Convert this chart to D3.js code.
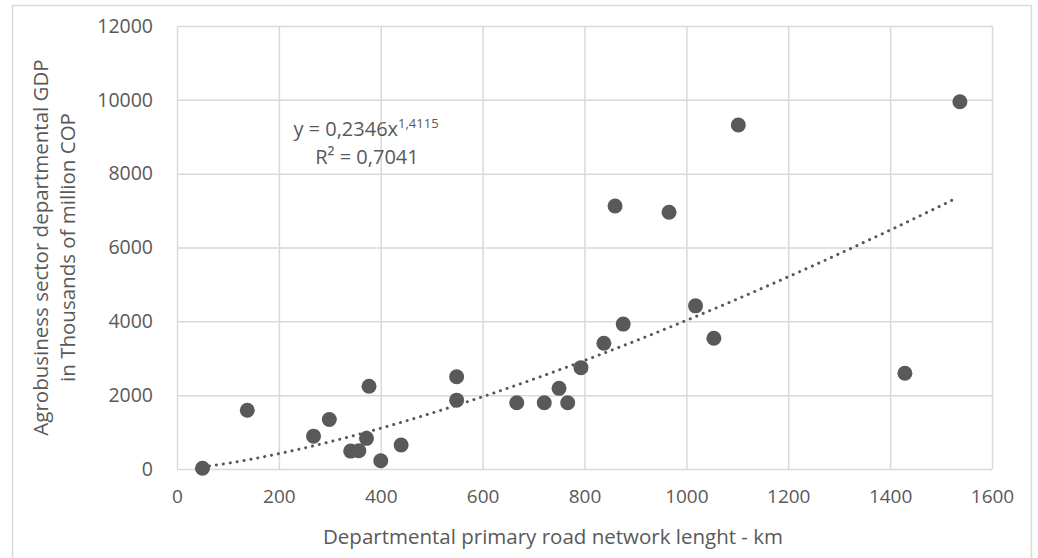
<!DOCTYPE html>
<html>
<head>
<meta charset="utf-8">
<script src="https://cdn.jsdelivr.net/npm/d3@7"></script>
<style>
  body { margin: 0; background: #fff; }
  text { font-family: "Open Sans", sans-serif; fill: #595959; }
</style>
</head>
<body>
<svg id="chart" width="1038" height="558"></svg>
<script>
// road network length (km) per department
const roadKm = [50, 138, 268, 299, 341, 357, 372, 377, 400, 440,
    549, 549, 667, 721, 750, 767, 793, 838, 860, 876,
    966, 1018, 1054, 1102, 1429, 1537]
// agrobusiness GDP (thousands of million COP)
const gdp = [20, 1590, 890, 1340, 485, 495, 830, 2240, 225, 650,
    2500, 1865, 1795, 1795, 2185, 1795, 2745, 3405, 7125, 3925,
    6955, 4420, 3540, 9320, 2595, 9950]

const xTicks = [0, 200, 400, 600, 800, 1000, 1200, 1400, 1600]
const yTicks = [0, 2000, 4000, 6000, 8000, 10000, 12000]

// power trend line  y = a * x^b
const fitA = 0.2346, fitB = 1.4115
const fitR2 = '0,7041'

const width = 1038,
    height = 558,
    plot = { left: 177, right: 992, top: 26, bottom: 469 }

const svg = d3.select('#chart')

svg.append('rect')
    .attr('width', width).attr('height', height)
    .attr('fill', '#fff')

// chart area border
svg.append('rect')
    .attr('x', 12.5).attr('y', 5.5)
    .attr('width', 1019).attr('height', 600)
    .attr('fill', 'none')
    .attr('stroke', '#d9d9d9')
    .attr('stroke-width', 1.5)

const x = d3.scaleLinear()
    .domain([0, 1600])
    .range([plot.left, plot.right])

const y = d3.scaleLinear()
    .domain([0, 12000])
    .range([plot.bottom, plot.top])

// vertical gridlines + x tick labels
const xAxis = d3.axisBottom(x)
    .tickValues(xTicks)
    .tickSize(-(plot.bottom - plot.top))
    .tickPadding(21)
    .tickFormat(d3.format('d'))

svg.append('g')
    .attr('transform', 'translate(0,' + plot.bottom + ')')
    .call(xAxis)
    .call(g => g.select('.domain').remove())
    .call(g => g.selectAll('line').attr('stroke', '#d9d9d9').attr('stroke-width', 1.5))
    .call(g => g.selectAll('text')
        .style('font-size', '19px')
        .style('font-family', '"Open Sans", sans-serif')
        .attr('fill', '#595959'))

// horizontal gridlines + y tick labels
const yAxis = d3.axisLeft(y)
    .tickValues(yTicks)
    .tickSize(-(plot.right - plot.left))
    .tickPadding(24)
    .tickFormat(d3.format('d'))

svg.append('g')
    .attr('transform', 'translate(' + plot.left + ',0)')
    .call(yAxis)
    .call(g => g.select('.domain').remove())
    .call(g => g.selectAll('line').attr('stroke', '#d9d9d9').attr('stroke-width', 1.5))
    .call(g => g.selectAll('text')
        .style('font-size', '19.5px')
        .style('font-family', '"Open Sans", sans-serif')
        .attr('fill', '#595959'))

// trend line
const trendX = d3.range(d3.min(roadKm), d3.max(roadKm) + 1, 8)
const line = d3.line()
    .x(d => x(d))
    .y(d => y(fitA * Math.pow(d, fitB)))

svg.append('path')
    .datum(trendX)
    .attr('d', line)
    .attr('fill', 'none')
    .attr('stroke', '#595959')
    .attr('stroke-width', 3)
    .attr('stroke-linecap', 'round')
    .attr('stroke-dasharray', '0.1 6.9')

// data points
svg.append('g')
    .selectAll('circle')
    .data(roadKm)
    .enter()
    .append('circle')
    .attr('cx', d => x(d))
    .attr('cy', (d, i) => y(gdp[i]))
    .attr('r', 7.5)
    .attr('fill', '#595959')

// equation label
const eq = svg.append('text')
    .attr('x', 366).attr('y', 136)
    .attr('text-anchor', 'middle')
    .style('font-size', '20px')
eq.append('tspan').text('y = ' + String(fitA).replace('.', ',') + 'x')
eq.append('tspan')
    .attr('dy', -8)
    .style('font-size', '13px')
    .text(String(fitB).replace('.', ','))

svg.append('text')
    .attr('x', 367).attr('y', 164)
    .attr('text-anchor', 'middle')
    .style('font-size', '20px')
    .text('R² = ' + fitR2)

// axis titles
svg.append('text')
    .attr('x', 553)
    .attr('y', 544)
    .attr('text-anchor', 'middle')
    .style('font-size', '20.5px')
    .text('Departmental primary road network lenght - km')

const yTitle = svg.append('text')
    .attr('transform', 'translate(48,' + (plot.top + plot.bottom) / 2 + ') rotate(-90)')
    .attr('text-anchor', 'middle')
    .style('font-size', '20.5px')
yTitle.append('tspan').attr('x', 0).attr('y', 0).text('Agrobusiness sector departmental GDP')
yTitle.append('tspan').attr('x', 0).attr('y', 27).text('in Thousands of million COP')
</script>
</body>
</html>
